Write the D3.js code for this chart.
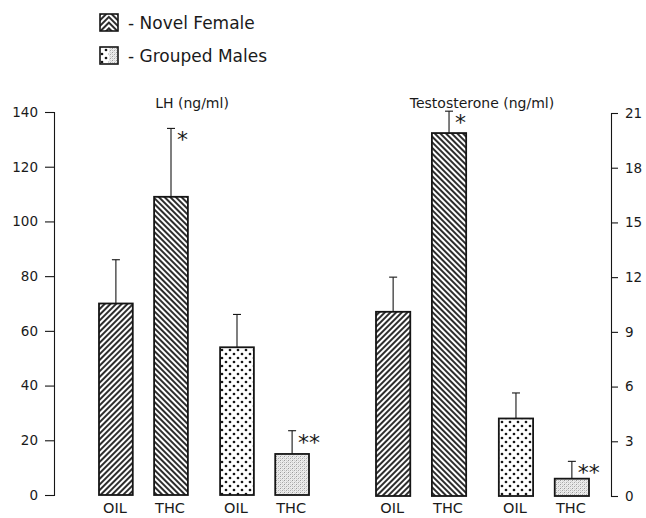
<!DOCTYPE html>
<html>
<head>
<meta charset="utf-8">
<script src="https://cdn.jsdelivr.net/npm/d3@7"></script>
<style>
  html, body { margin: 0; padding: 0; background: #fff; }
  svg { display: block; }
  text { font-family: "DejaVu Sans", sans-serif; fill: #1a1a1a; }
</style>
</head>
<body>
<svg id="chart" width="646" height="518"></svg>
<script>
// Groups and treatments
const groups = ["Novel Female", "Grouped Males"];
const treatments = ["OIL", "THC"];

// LH (ng/ml): mean and mean + SEM, ordered [female OIL, female THC, grouped OIL, grouped THC]
const lhMean = [70, 109, 54, 15];
const lhUpper = [86, 134, 66, 23.5];
const lhSig = ["", "*", "", "**"];
const lhTicks = [0, 20, 40, 60, 80, 100, 120, 140];

// Testosterone (ng/ml)
const tMean = [10.1, 19.9, 4.25, 0.95];
const tUpper = [12.0, 21.1, 5.65, 1.9];
const tSig = ["", "*", "", "**"];
const tTicks = [0, 3, 6, 9, 12, 15, 18, 21];

const svg = d3.select("#chart");
const ink = "#161616";

// ---- fill patterns ----
const defs = svg.append("defs");

function hatch(id, angle) {
  const p = defs.append("pattern")
    .attr("id", id)
    .attr("patternUnits", "userSpaceOnUse")
    .attr("width", 4).attr("height", 10)
    .attr("patternTransform", `rotate(${angle})`);
  p.append("rect").attr("width", 4).attr("height", 10).attr("fill", "#fff");
  p.append("line").attr("x1", 1).attr("x2", 1).attr("y1", 0).attr("y2", 10)
    .attr("stroke", ink).attr("stroke-width", 1.8);
}
hatch("hatchUp", 45);     // "/" lines
hatch("hatchDown", -45);  // "\" lines

const dots = defs.append("pattern")
  .attr("id", "dots").attr("patternUnits", "userSpaceOnUse")
  .attr("width", 8).attr("height", 8);
dots.append("rect").attr("width", 8).attr("height", 8).attr("fill", "#fff");
dots.append("circle").attr("cx", 2).attr("cy", 2).attr("r", 1.35).attr("fill", ink);
dots.append("circle").attr("cx", 6).attr("cy", 6).attr("r", 1.35).attr("fill", ink);

const stip = defs.append("pattern")
  .attr("id", "stipple").attr("patternUnits", "userSpaceOnUse")
  .attr("width", 4).attr("height", 4);
stip.append("rect").attr("width", 4).attr("height", 4).attr("fill", "#ececec");
[[0,0,"#9a9a9a"],[2,2,"#a8a8a8"],[2,0,"#cfcfcf"],[0,2,"#c4c4c4"],[1,3,"#d8d8d8"],[3,1,"#d2d2d2"]]
  .forEach(([x,y,c]) => stip.append("rect").attr("x", x).attr("y", y)
    .attr("width", 1).attr("height", 1).attr("fill", c));

const fills = ["url(#hatchUp)", "url(#hatchDown)", "url(#dots)", "url(#stipple)"];

// ---- legend ----
const legend = svg.append("g");
const legendRows = [
  { label: "- Novel Female", left: fills[0], right: fills[1], y: 14 },
  { label: "- Grouped Males", left: fills[2], right: fills[3], y: 47 }
];
legendRows.forEach(r => {
  legend.append("rect").attr("x", 100).attr("y", r.y).attr("width", 9).attr("height", 17)
    .attr("fill", r.left);
  legend.append("rect").attr("x", 109).attr("y", r.y).attr("width", 9).attr("height", 17)
    .attr("fill", r.right);
  legend.append("rect").attr("x", 100).attr("y", r.y).attr("width", 18).attr("height", 17)
    .attr("fill", "none").attr("stroke", ink).attr("stroke-width", 1.6);
  legend.append("text").attr("x", 128).attr("y", r.y + 15)
    .attr("font-size", 17).text(r.label);
});

// ---- panels ----
const baseY = 495;

function panel(cfg) {
  const y = d3.scaleLinear().domain(cfg.domain).range(cfg.yRange);
  const xGroup = d3.scaleBand().domain(groups).range(cfg.xRange)
    .paddingInner(0.266).paddingOuter(0);
  const xTreat = d3.scaleBand().domain(treatments).range([0, xGroup.bandwidth()])
    .paddingInner(0.387).paddingOuter(0);

  const rows = [];
  groups.forEach((g, gi) => treatments.forEach((t, ti) => {
    const i = gi * 2 + ti;
    rows.push({ g, t, i, mean: cfg.mean[i], upper: cfg.upper[i], sig: cfg.sig[i],
      x: xGroup(g) + xTreat(t), w: xTreat.bandwidth() });
  }));

  const g = svg.append("g");

  // bars
  g.selectAll("rect.bar").data(rows).join("rect").attr("class", "bar")
    .attr("x", d => d.x).attr("width", d => d.w)
    .attr("y", d => y(d.mean)).attr("height", d => y(0) - y(d.mean))
    .attr("fill", d => fills[d.i])
    .attr("stroke", ink).attr("stroke-width", 1.8);

  // error bars (upper half only)
  const eb = g.selectAll("g.err").data(rows).join("g").attr("class", "err");
  eb.append("line")
    .attr("x1", d => d.x + d.w / 2).attr("x2", d => d.x + d.w / 2)
    .attr("y1", d => y(d.mean)).attr("y2", d => y(d.upper))
    .attr("stroke", ink).attr("stroke-width", 1.1);
  eb.append("line")
    .attr("x1", d => d.x + d.w / 2 - 4).attr("x2", d => d.x + d.w / 2 + 4)
    .attr("y1", d => y(d.upper)).attr("y2", d => y(d.upper))
    .attr("stroke", ink).attr("stroke-width", 1.1);

  // significance marks
  g.selectAll("text.sig").data(rows.filter(d => d.sig)).join("text").attr("class", "sig")
    .attr("x", d => d.x + d.w / 2 + 6)
    .attr("y", d => y(d.upper) + 19)
    .attr("font-size", 22)
    .text(d => d.sig);

  // treatment labels
  g.selectAll("text.cat").data(rows).join("text").attr("class", "cat")
    .attr("x", d => d.x + d.w / 2 - 1).attr("y", 513)
    .attr("text-anchor", "middle").attr("font-size", 14.5)
    .text(d => d.t);

  // panel title
  g.append("text").attr("x", cfg.titleX).attr("y", 108)
    .attr("text-anchor", "middle").attr("font-size", 14).text(cfg.title);

  // axis
  const axis = cfg.side === "left"
    ? d3.axisLeft(y).tickValues(cfg.ticks).tickSize(9).tickPadding(7)
    : d3.axisRight(y).tickValues(cfg.ticks).tickSize(7).tickPadding(7);
  const ax = svg.append("g").attr("transform", `translate(${cfg.axisX},0)`).call(axis);
  ax.select(".domain").attr("stroke", ink).attr("stroke-width", 1.1);
  ax.selectAll(".tick line").attr("stroke", ink).attr("stroke-width", 1.1);
  ax.selectAll(".tick text").attr("font-family", "DejaVu Sans, sans-serif")
    .attr("font-size", 13.5).attr("fill", ink);
}

panel({
  title: "LH (ng/ml)", titleX: 192, side: "left", axisX: 54,
  domain: [0, 140], yRange: [baseY, 112], xRange: [99, 309],
  mean: lhMean, upper: lhUpper, sig: lhSig, ticks: lhTicks
});
panel({
  title: "Testosterone (ng/ml)", titleX: 482, side: "right", axisX: 611,
  domain: [0, 21], yRange: [baseY + 1, 113], xRange: [376, 589],
  mean: tMean, upper: tUpper, sig: tSig, ticks: tTicks
});
</script>
</body>
</html>
